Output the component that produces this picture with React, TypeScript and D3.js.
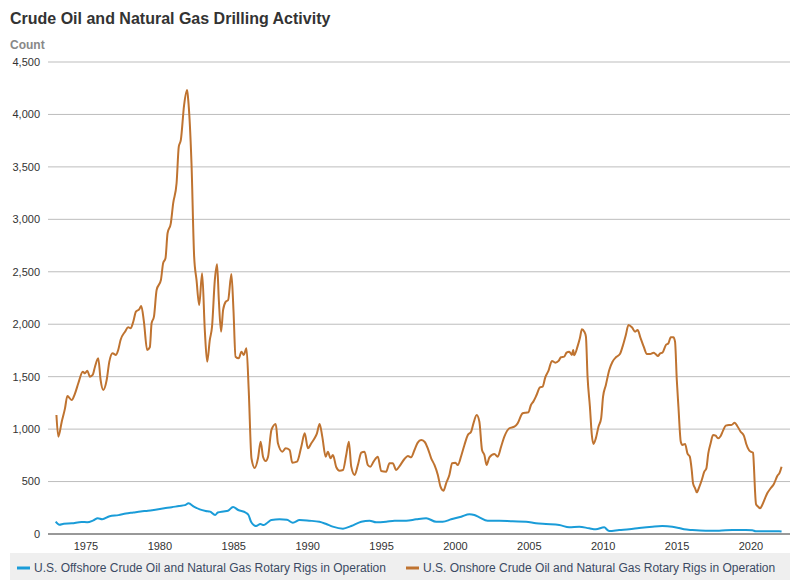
import React from "react";
import * as d3 from "d3";

const onshore: [number, number][] = [
  [1973.0, 1135], [1973.13, 928], [1973.36, 1071], [1973.58, 1198], [1973.74, 1316],
  [1974.03, 1278], [1974.26, 1341], [1974.48, 1437], [1974.78, 1548], [1974.93, 1532],
  [1975.09, 1557], [1975.27, 1500], [1975.45, 1516], [1975.61, 1595], [1975.83, 1675],
  [1975.99, 1468], [1976.17, 1373], [1976.4, 1468], [1976.58, 1643], [1976.8, 1723],
  [1977.03, 1707], [1977.18, 1754], [1977.34, 1850], [1977.64, 1929], [1977.86, 1971],
  [1978.02, 1961], [1978.2, 2024], [1978.38, 2120], [1978.6, 2142], [1978.74, 2174],
  [1978.92, 2024], [1979.14, 1754], [1979.32, 1780], [1979.44, 2009], [1979.6, 2072],
  [1979.78, 2326], [1980.07, 2422], [1980.22, 2581], [1980.38, 2629], [1980.52, 2867],
  [1980.74, 2962], [1980.9, 3153], [1981.13, 3344], [1981.28, 3693], [1981.42, 3757],
  [1981.64, 4090], [1981.84, 4233], [1981.91, 4154], [1982.14, 3534], [1982.32, 2644],
  [1982.48, 2422], [1982.66, 2183], [1982.86, 2486], [1983.04, 1945], [1983.2, 1643],
  [1983.38, 1850], [1983.53, 1977], [1983.72, 2422], [1983.87, 2571], [1983.99, 2231],
  [1984.14, 1929], [1984.28, 2136], [1984.46, 2215], [1984.62, 2231], [1984.84, 2479],
  [1984.98, 2136], [1985.12, 1690], [1985.34, 1675], [1985.52, 1738], [1985.68, 1707],
  [1985.86, 1771], [1986.01, 1380], [1986.2, 720], [1986.42, 630], [1986.64, 722],
  [1986.82, 880], [1986.98, 737], [1987.16, 696], [1987.32, 737], [1987.55, 992],
  [1987.84, 1049], [1987.99, 865], [1988.29, 785], [1988.51, 817], [1988.78, 801],
  [1988.96, 680], [1989.28, 690], [1989.57, 832], [1989.8, 960], [1990.02, 817],
  [1990.25, 865], [1990.47, 912], [1990.63, 960], [1990.81, 1049], [1990.99, 928],
  [1991.22, 737], [1991.37, 785], [1991.55, 722], [1991.71, 753], [1991.94, 636],
  [1992.16, 604], [1992.39, 610], [1992.61, 753], [1992.79, 880], [1992.95, 642],
  [1993.18, 563], [1993.4, 658], [1993.63, 775], [1993.85, 785], [1994.07, 658],
  [1994.24, 642], [1994.46, 690], [1994.75, 737], [1994.98, 600], [1995.31, 594],
  [1995.54, 674], [1995.76, 674], [1995.99, 610], [1996.22, 648], [1996.55, 715],
  [1996.78, 744], [1997.0, 731], [1997.23, 801], [1997.45, 871], [1997.68, 896],
  [1997.91, 880], [1998.13, 817], [1998.36, 722], [1998.58, 658], [1998.81, 563],
  [1998.99, 451], [1999.19, 413], [1999.37, 483], [1999.59, 563], [1999.78, 674],
  [2000.0, 680], [2000.16, 658], [2000.39, 744], [2000.61, 849], [2000.84, 944],
  [2001.06, 975], [2001.22, 1055], [2001.44, 1135], [2001.62, 1071], [2001.8, 801],
  [2001.96, 753], [2002.11, 658], [2002.3, 731], [2002.64, 763], [2002.86, 737],
  [2003.09, 832], [2003.31, 928], [2003.65, 1008], [2003.99, 1023], [2004.21, 1055],
  [2004.55, 1151], [2004.78, 1157], [2004.94, 1160], [2005.11, 1230], [2005.27, 1262],
  [2005.49, 1325], [2005.72, 1398], [2005.9, 1405], [2006.08, 1494], [2006.3, 1557],
  [2006.53, 1650], [2006.76, 1633], [2006.98, 1650], [2007.14, 1685], [2007.36, 1691],
  [2007.52, 1729], [2007.7, 1738], [2007.88, 1707], [2007.97, 1754], [2008.03, 1705],
  [2008.26, 1786], [2008.42, 1866], [2008.56, 1951], [2008.72, 1929], [2008.83, 1881],
  [2008.94, 1500], [2009.1, 1214], [2009.23, 944], [2009.34, 858], [2009.5, 912],
  [2009.68, 1023], [2009.86, 1103], [2009.99, 1309], [2010.18, 1421], [2010.41, 1564],
  [2010.63, 1643], [2010.86, 1685], [2011.13, 1716], [2011.31, 1786], [2011.53, 1897],
  [2011.71, 1993], [2011.94, 1971], [2012.16, 1929], [2012.33, 1945], [2012.51, 1875],
  [2012.74, 1786], [2012.96, 1716], [2013.18, 1716], [2013.41, 1729], [2013.56, 1713],
  [2013.7, 1697], [2013.86, 1723], [2014.01, 1729], [2014.24, 1802], [2014.41, 1818],
  [2014.57, 1875], [2014.75, 1875], [2014.86, 1834], [2014.98, 1468], [2015.09, 1214],
  [2015.25, 880], [2015.36, 849], [2015.54, 858], [2015.7, 769], [2015.86, 737],
  [2015.99, 610], [2016.08, 483], [2016.22, 436], [2016.33, 397], [2016.49, 445],
  [2016.67, 515], [2016.84, 594], [2016.98, 626], [2017.11, 769], [2017.27, 865],
  [2017.43, 944], [2017.61, 937], [2017.77, 912], [2017.95, 934], [2018.11, 985],
  [2018.29, 1033], [2018.51, 1039], [2018.67, 1039], [2018.9, 1061], [2019.07, 1030],
  [2019.3, 975], [2019.53, 934], [2019.68, 858], [2019.86, 801], [2019.98, 785],
  [2020.14, 775], [2020.2, 642], [2020.27, 420], [2020.34, 286], [2020.49, 260],
  [2020.61, 245], [2020.76, 276], [2020.95, 340], [2021.1, 388], [2021.33, 436],
  [2021.55, 477], [2021.78, 553], [2021.94, 585], [2022.07, 642],
];

const offshore: [number, number][] = [
  [1972.95, 117], [1973.2, 88], [1973.5, 98], [1974.04, 102], [1974.7, 115],
  [1975.08, 112], [1975.5, 130], [1975.8, 150], [1976.1, 140], [1976.6, 170],
  [1977.2, 180], [1977.7, 195], [1978.2, 205], [1978.7, 215], [1979.2, 222],
  [1979.7, 232], [1980.3, 245], [1980.8, 255], [1981.3, 267], [1981.7, 275],
  [1981.94, 292], [1982.3, 262], [1982.7, 235], [1983.1, 220], [1983.4, 213],
  [1983.74, 181], [1983.92, 205], [1984.3, 215], [1984.61, 222], [1984.95, 258],
  [1985.3, 229], [1985.82, 203], [1986.0, 180], [1986.17, 117], [1986.51, 76],
  [1986.8, 95], [1987.03, 85], [1987.3, 110], [1987.55, 133], [1988.1, 140],
  [1988.6, 135], [1989.0, 108], [1989.46, 133], [1990.1, 127], [1990.8, 117],
  [1991.26, 95], [1991.7, 70], [1992.39, 51], [1992.95, 76], [1993.63, 117],
  [1994.19, 127], [1994.64, 111], [1995.31, 117], [1995.88, 127], [1996.67, 127],
  [1997.34, 140], [1998.02, 150], [1998.7, 117], [1999.14, 117], [1999.71, 140],
  [2000.39, 165], [2000.95, 188], [2001.28, 181], [2001.62, 159], [2002.18, 127],
  [2002.97, 127], [2003.87, 121], [2004.78, 117], [2005.45, 102], [2006.13, 95],
  [2007.03, 86], [2007.7, 64], [2008.38, 70], [2009.05, 54], [2009.5, 45],
  [2010.07, 64], [2010.29, 38], [2010.41, 29], [2011.08, 38], [2011.76, 45],
  [2012.43, 57], [2013.33, 70], [2014.0, 76], [2014.68, 70], [2015.14, 57],
  [2015.47, 45], [2016.03, 38], [2016.93, 32], [2017.84, 32], [2018.74, 38],
  [2019.64, 38], [2020.09, 35], [2020.32, 26], [2021.9, 26], [2022.07, 24],
];

const xTicks = [1975, 1980, 1985, 1990, 1995, 2000, 2005, 2010, 2015, 2020];
const yTicks = [0, 500, 1000, 1500, 2000, 2500, 3000, 3500, 4000, 4500];
const seriesNames = [
  "U.S. Offshore Crude Oil and Natural Gas Rotary Rigs in Operation",
  "U.S. Onshore Crude Oil and Natural Gas Rotary Rigs in Operation",
];
const title = "Crude Oil and Natural Gas Drilling Activity";
const yLabel = "Count";

const W = 800;
const H = 583;
const FONT = "'Liberation Sans', Arial, Helvetica, sans-serif";
const BLUE = "#1a9cd8";
const BROWN = "#bf7330";

export default function App() {
  const x = d3.scaleLinear().domain([1972.43, 2022.64]).range([48, 790]);
  const y = d3.scaleLinear().domain([0, 4500]).range([534, 62]);
  const line = d3
    .line<[number, number]>()
    .x((d) => x(d[0]))
    .y((d) => y(d[1]))
    .curve(d3.curveMonotoneX);
  const fmt = d3.format(",");

  return (
    <svg
      width={W}
      height={H}
      style={{ position: "absolute", left: 0, top: 0, fontFamily: FONT }}
    >
      <rect width={W} height={H} fill="#fff" />
      <text x={10} y={24} fontSize={16} fontWeight="bold" fill="#333">
        {title}
      </text>
      <text x={10} y={49} fontSize={12} fontWeight="bold" fill="#888">
        {yLabel}
      </text>
      {yTicks.map((t) => (
        <g key={t}>
          {t > 0 && (
            <line x1={48} x2={790} y1={y(t)} y2={y(t)} stroke="#bdbdbd" strokeWidth={1} />
          )}
          <text
            x={40}
            y={y(t)}
            dy="0.35em"
            textAnchor="end"
            fontSize={11}
            fill="#333"
          >
            {fmt(t)}
          </text>
        </g>
      ))}
      <line x1={48} x2={790} y1={y(0)} y2={y(0)} stroke="#333" strokeWidth={1} />
      {xTicks.map((t) => (
        <text
          key={t}
          x={x(t)}
          y={550}
          textAnchor="middle"
          fontSize={11}
          fill="#333"
        >
          {t}
        </text>
      ))}
      <path d={line(offshore) || ""} fill="none" stroke={BLUE} strokeWidth={2} />
      <path d={line(onshore) || ""} fill="none" stroke={BROWN} strokeWidth={2} />
      <rect x={10} y={553} width={780} height={27} fill="#efefef" />
      <line x1={17} x2={30} y1={568} y2={568} stroke={BLUE} strokeWidth={3} />
      <text x={34} y={572} fontSize={12} fill="#3b4a63">
        {seriesNames[0]}
      </text>
      <line x1={406} x2={419} y1={568} y2={568} stroke={BROWN} strokeWidth={3} />
      <text x={423} y={572} fontSize={12} fill="#3b4a63">
        {seriesNames[1]}
      </text>
    </svg>
  );
}
